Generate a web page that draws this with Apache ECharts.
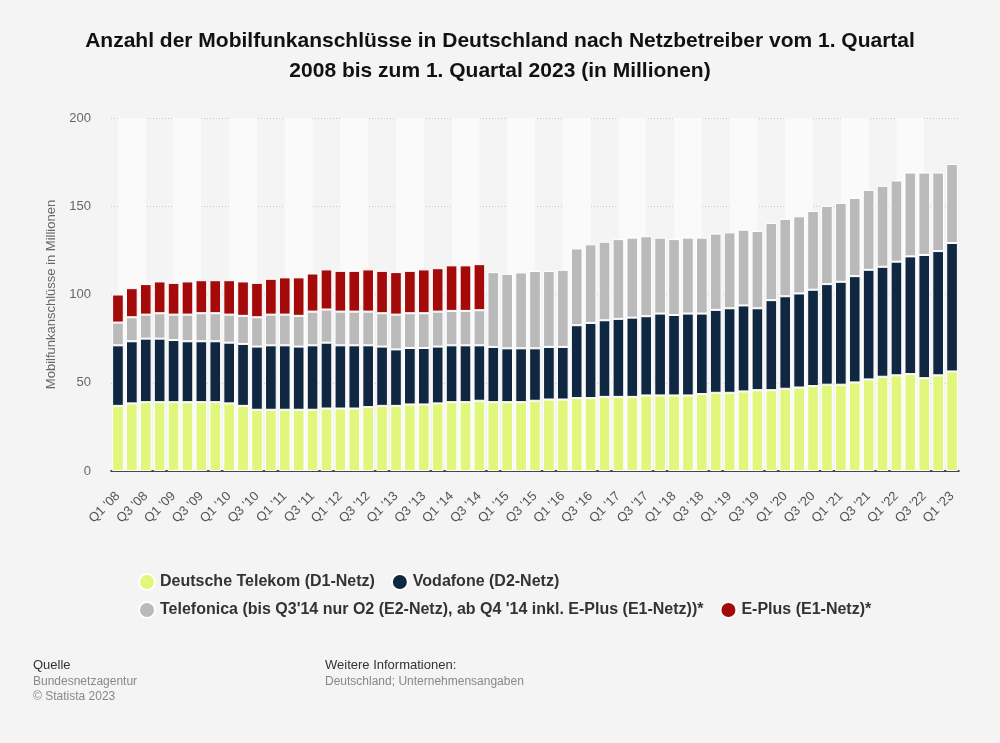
<!DOCTYPE html>
<html>
<head>
<meta charset="utf-8">
<script src="https://cdn.jsdelivr.net/npm/echarts@6/dist/echarts.min.js"></script>
<style>
html,body{margin:0;padding:0;background:#f4f4f4;}
#c{width:1000px;height:743px;}
</style>
</head>
<body>
<div id="c"></div>
<script>
var categories = [
"Q1 '08","Q2 '08","Q3 '08","Q4 '08",
"Q1 '09","Q2 '09","Q3 '09","Q4 '09",
"Q1 '10","Q2 '10","Q3 '10","Q4 '10",
"Q1 '11","Q2 '11","Q3 '11","Q4 '11",
"Q1 '12","Q2 '12","Q3 '12","Q4 '12",
"Q1 '13","Q2 '13","Q3 '13","Q4 '13",
"Q1 '14","Q2 '14","Q3 '14","Q4 '14",
"Q1 '15","Q2 '15","Q3 '15","Q4 '15",
"Q1 '16","Q2 '16","Q3 '16","Q4 '16",
"Q1 '17","Q2 '17","Q3 '17","Q4 '17",
"Q1 '18","Q2 '18","Q3 '18","Q4 '18",
"Q1 '19","Q2 '19","Q3 '19","Q4 '19",
"Q1 '20","Q2 '20","Q3 '20","Q4 '20",
"Q1 '21","Q2 '21","Q3 '21","Q4 '21",
"Q1 '22","Q2 '22","Q3 '22","Q4 '22",
"Q1 '23"
];

var telekom = [
36.9,38.3,39.0,39.0, 39.0,39.0,39.0,39.0, 38.3,36.9,34.7,34.7,
34.7,34.7,34.7,35.4, 35.4,35.4,36.2,36.9, 36.9,37.7,37.7,38.3,
39.0,39.0,39.8,39.0, 39.0,39.0,39.8,40.5, 40.5,41.3,41.3,42.0,
42.0,42.0,42.8,42.8, 42.8,42.8,43.6,44.3, 44.3,45.1,45.8,45.8,
46.6,47.3,48.1,48.9, 48.9,50.2,51.9,53.4, 54.2,54.9,52.6,54.2,
56.4
];

var vodafone = [
34.3,35.2,36.0,36.0, 35.2,34.5,34.5,34.5, 34.4,35.1,35.8,36.5,
36.5,35.8,36.5,37.3, 35.8,35.8,35.0,33.6, 32.0,32.0,32.0,32.2,
32.2,32.2,31.4,31.3, 30.5,30.5,29.7,29.8, 29.8,41.3,42.6,43.4,
44.2,44.9,44.9,46.4, 45.6,46.4,45.6,47.0, 47.9,48.7,46.4,51.0,
52.4,53.3,54.6,57.0, 58.3,60.2,62.1,62.3, 64.4,66.7,69.8,70.4,
72.8
];

var telefonica = [
12.9,13.6,13.6,14.4, 14.4,15.1,15.9,15.9, 15.9,15.9,16.6,17.4,
17.4,17.4,19.1,18.8, 19.1,19.1,19.1,18.9, 19.7,19.7,19.7,19.8,
19.5,19.5,19.9,42.4, 42.2,43.0,43.8,43.0, 43.7,43.5,44.5,44.5,
45.2,45.3,45.3,43.0, 43.0,43.0,43.0,43.2, 43.0,42.9,43.8,43.7,
43.8,43.7,44.6,44.3, 44.7,44.3,45.3,45.9, 46.0,47.5,46.7,44.5,
44.7
];

var eplus = [
15.9,16.5,17.3,18.0, 18.0,18.8,18.7,18.7, 19.5,19.5,19.5,20.3,
21.1,21.8,21.6,22.7, 23.1,23.1,23.9,24.0, 24.1,24.0,24.8,24.6,
25.8,25.8,26.1,null, null,null,null,null, null,null,null,null,
null,null,null,null, null,null,null,null, null,null,null,null,
null,null,null,null, null,null,null,null, null,null,null,null,
null
];

var seriesNames = [
"Deutsche Telekom (D1-Netz)",
"Vodafone (D2-Netz)",
"Telefonica (bis Q3'14 nur O2 (E2-Netz), ab Q4 '14 inkl. E-Plus (E1-Netz))*",
"E-Plus (E1-Netz)*"
];
var colors = ["#e0f77b", "#0f2740", "#bababa", "#a50a0a"];
var FONT = 'Liberation Sans, Arial, sans-serif';

// background stripes: every other pair of categories (from bar centre to bar centre)
var stripes = [];
for (var i = 0; i + 2 < categories.length; i += 4) {
  stripes.push([{ xAxis: categories[i] }, { xAxis: categories[i + 2] }]);
}

function barSeries(idx, data) {
  return {
    name: seriesNames[idx],
    type: 'bar',
    stack: 'total',
    data: data,
    z: 3,
    barCategoryGap: '16%',
    itemStyle: { color: colors[idx], borderColor: '#ffffff', borderWidth: 1 },
    emphasis: { disabled: true }
  };
}

var legendText = { fontFamily: FONT, fontSize: 16, fontWeight: 'bold', color: '#333' };

var chart = echarts.init(document.getElementById('c'), null, { renderer: 'canvas' });
chart.setOption({
  backgroundColor: '#f4f4f4',
  animation: false,
  color: colors,
  title: {
    text: 'Anzahl der Mobilfunkanschlüsse in Deutschland nach Netzbetreiber vom 1. Quartal\n2008 bis zum 1. Quartal 2023 (in Millionen)',
    left: 'center',
    top: 21,
    textStyle: {
      fontFamily: FONT,
      fontSize: 21,
      fontWeight: 'bold',
      color: '#111',
      lineHeight: 30
    }
  },
  legend: [
    {
      data: [seriesNames[0], seriesNames[1]],
      left: 133, top: 568,
      icon: 'circle', itemWidth: 16, itemHeight: 16, itemGap: 16,
      selectedMode: false,
      textStyle: legendText
    },
    {
      data: [seriesNames[2], seriesNames[3]],
      left: 133, top: 596,
      icon: 'circle', itemWidth: 16, itemHeight: 16, itemGap: 16,
      selectedMode: false,
      textStyle: legendText
    }
  ],
  grid: { left: 111, right: 41, top: 118, bottom: 272, containLabel: false },
  xAxis: {
    type: 'category',
    data: categories,
    axisTick: { show: false },
    axisLine: { lineStyle: { color: '#111', width: 1.5 } },
    axisLabel: {
      interval: 1,
      rotate: 45,
      color: '#555',
      fontSize: 13,
      margin: 23,
      fontFamily: FONT
    },
    splitLine: { show: false }
  },
  yAxis: {
    type: 'value',
    min: 0, max: 200, interval: 50,
    name: 'Mobilfunkanschlüsse in Millionen',
    nameLocation: 'middle',
    nameGap: 48,
    nameTextStyle: { color: '#666', fontSize: 13, fontFamily: FONT },
    axisLine: { show: false },
    axisTick: { show: false },
    axisLabel: { color: '#666', fontSize: 13, margin: 20, fontFamily: FONT },
    splitLine: { lineStyle: { color: '#c8c8c8', type: [1, 2], width: 1 } }
  },
  series: [
    {
      type: 'line',
      data: [],
      z: 0,
      silent: true,
      markArea: {
        silent: true,
        itemStyle: { color: '#fafafa' },
        data: stripes
      }
    },
    barSeries(0, telekom),
    barSeries(1, vodafone),
    barSeries(2, telefonica),
    barSeries(3, eplus)
  ],
  graphic: [
    { type: 'text', left: 33, top: 659, style: { text: 'Quelle', fill: '#333', font: '13px "Liberation Sans", Arial, sans-serif' } },
    { type: 'text', left: 33, top: 676, style: { text: 'Bundesnetzagentur', fill: '#888', font: '12px "Liberation Sans", Arial, sans-serif' } },
    { type: 'text', left: 33, top: 691, style: { text: '© Statista 2023', fill: '#888', font: '12px "Liberation Sans", Arial, sans-serif' } },
    { type: 'text', left: 325, top: 659, style: { text: 'Weitere Informationen:', fill: '#333', font: '13px "Liberation Sans", Arial, sans-serif' } },
    { type: 'text', left: 325, top: 676, style: { text: 'Deutschland; Unternehmensangaben', fill: '#888', font: '12px "Liberation Sans", Arial, sans-serif' } }
  ]
});
</script>
</body>
</html>
